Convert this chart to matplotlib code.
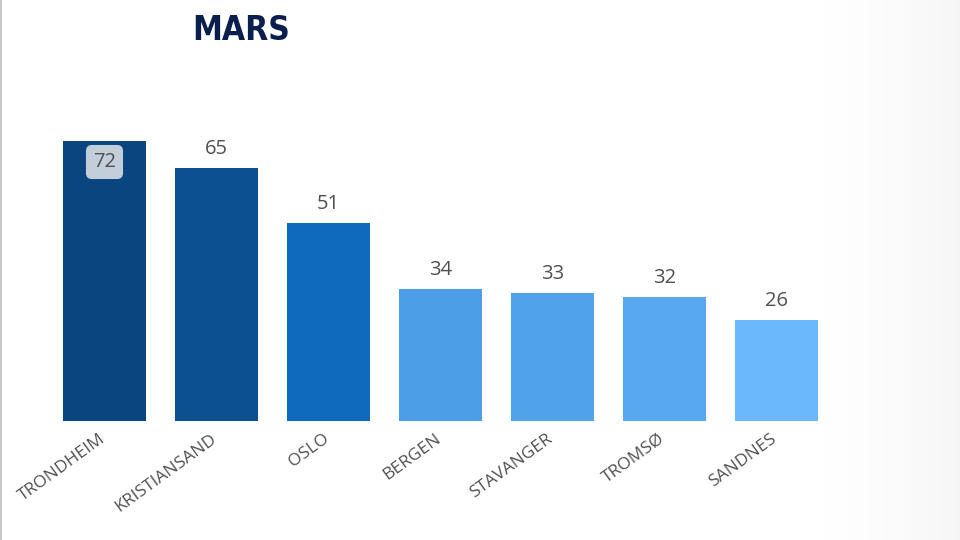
import matplotlib
matplotlib.use("Agg")
import matplotlib.pyplot as plt
import matplotlib.transforms as mtransforms
import numpy as np

cities = ["TRONDHEIM", "KRISTIANSAND", "OSLO", "BERGEN", "STAVANGER", "TROMSØ", "SANDNES"]
values = [72, 65, 51, 34, 33, 32, 26]
colors = ["#0a457f", "#0c5092", "#0f69bd", "#4c9fe6", "#50a2e9", "#57a8ef", "#6cb8fc"]

plt.rcParams['font.family'] = ['Open Sans', 'DejaVu Sans']

fig = plt.figure(figsize=(9.6, 5.4), dpi=100)
fig.patch.set_facecolor("white")

# faint grey wash on the right side, like the slide background
bg = fig.add_axes([0, 0, 1, 1], zorder=-1)
grad = np.linspace(0, 1, 200)
grad = np.clip((grad - 0.84) / 0.16, 0, 1) ** 1.5
bg.imshow(np.tile(grad, (10, 1)), cmap="Greys", vmin=0, vmax=14,
          aspect="auto", extent=[0, 1, 0, 1])
bg.plot([0.001, 0.001], [0, 1], color="#c8c8c8", lw=1.5)
bg.set_xlim(0, 1)
bg.set_ylim(0, 1)
bg.axis("off")

ax = fig.add_axes([48.5 / 960, 1 - 421 / 540, 784 / 960, 280 / 540])
ax.set_facecolor("none")
x = np.arange(len(cities))
ax.bar(x, values, width=0.74, color=colors)
ax.set_xlim(-0.5, 6.5)
ax.set_ylim(0, 72)

for i, v in enumerate(values):
    if i == 0:
        ax.text(i, v - 5.4, str(v), ha="center", va="center", fontsize=14.5, color="#505050",
                bbox=dict(boxstyle="round,pad=0.35,rounding_size=0.3", fc="#c3cedb", ec="none"))
    else:
        ax.text(i, v + 2.3, str(v), ha="center", va="bottom", fontsize=14.5, color="#505050")

ax.set_xticks(x)
ax.set_xticklabels(cities, rotation=36, ha="right", va="top", rotation_mode="anchor",
                   fontsize=12.5, color="#505050")
ax.tick_params(axis="x", length=0, pad=7)
offset = mtransforms.ScaledTranslation(-6 / 100, 0, fig.dpi_scale_trans)
for lab in ax.get_xticklabels():
    lab.set_transform(lab.get_transform() + offset)
ax.set_yticks([])
for s in ax.spines.values():
    s.set_visible(False)

fig.text(241 / 960, 1 - 30 / 540, "MARS", ha="center", va="center", fontsize=24,
         fontweight="bold", fontstretch="condensed", color="#0b1f4f",
         family=["DejaVu Sans"])

fig.savefig("out.png", dpi=100)
